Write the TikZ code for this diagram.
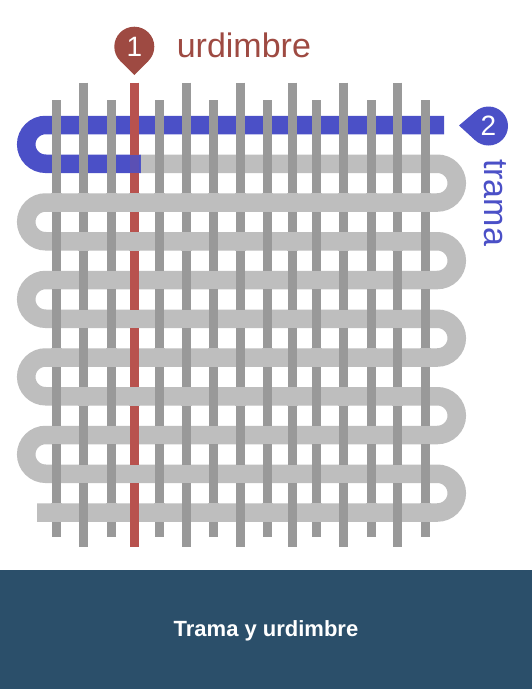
\documentclass[tikz,border=0pt]{standalone}
\usepackage{fontspec}
\setmainfont{Liberation Sans}
\usetikzlibrary{positioning}

\definecolor{warpgray}{HTML}{999999}
\definecolor{weftgray}{HTML}{BEBEBE}
\definecolor{warpred}{HTML}{B8524E}
\definecolor{weftblue}{HTML}{4B50C7}
\definecolor{pinred}{HTML}{9E4A42}
\definecolor{bannerblue}{HTML}{2B4F6A}

\tikzset{
  warp/.style={line width=9pt, draw=warpgray},
  weft/.style={line width=18.5pt, draw=weftgray},
  pinmark/.style={shape=circle, minimum size=#1, inner sep=0pt, outer sep=0pt, text=white, font=\fontsize{28}{28}\selectfont},
  bigtext/.style={inner sep=0pt, font=\fontsize{34}{34}\selectfont}
}

\begin{document}
\begin{tikzpicture}[x=1pt, y=-1pt]
			\useasboundingbox (0,0) rectangle (532,689);
			\fill[white] (0,0) rectangle (532,689);
			% Weft (gray, one long path) and the first pass in blue:
			\draw[weft] (140,163.75)
				\foreach \r in {163.75,241.25,318.75,396.25} {
					-- (437.4,\r) arc[start angle=-90, end angle=90, radius=19.375]
					-- (45.6,\r+38.75) arc[start angle=-90, end angle=-270, radius=19.375]
				}
				-- (437.4,473.75) arc[start angle=-90, end angle=90, radius=19.375]
				-- (37,512.5);
			\draw[weft, draw=weftblue] (444,125) -- (45.6,125) arc[start angle=-90, end angle=-270, radius=19.375] -- (140.5,163.75);
			% Warp threads:
			\foreach \x in {56.7,111.2,159.5,213,267.5,316.6,371.2,425.3}
				\draw[warp] (\x,100) -- (\x,537.3);
			\foreach \x in {83.8,186,240.5,292.5,343.8,397.8}
				\draw[warp] (\x,82.7) -- (\x,546.5);
			\draw[warp, draw=warpred] (134.5,82.7) -- (134.5,546.5);
			% Weft over warp crossings:
			\foreach \x [count=\c] in {56.7,83.8,111.2,134.5,159.5,186,213,240.5,267.5,292.5,316.6,343.8,371.2,397.8,425.3} {
				\fill[weftgray] (\x-5.5,193.25) rectangle (\x+5.5,211.75);
				\foreach \r in {4,...,11} {
					\pgfmathtruncatemacro{\wpar}{mod(\c+\r,2)}
					\ifnum\wpar=0
						\fill[weftgray] (\x-5.5,{125+38.75*(\r-1)-9.25}) rectangle (\x+5.5,{125+38.75*(\r-1)+9.25});
					\fi
				}
			}
			\fill[weftblue, opacity=0.85] (129.5,154.5) rectangle (140.5,173);
			% Markers and labels:
			\node[pinmark=40pt, fill=pinred] (markone) at (134.3,46.7) {1};
			\coordinate (tipone) at (134.3,75);
			\fill[pinred] (markone.-45) -- (tipone) -- (markone.-135) -- cycle;
			\node[bigtext, text=pinred, anchor=base west] (warplabel) at (176.6,57) {urdimbre};
			\node[pinmark=39pt, fill=weftblue] (marktwo) at (488.5,126) {2};
			\coordinate (tiptwo) at (459,125.5);
			\fill[weftblue] (marktwo.132) -- (tiptwo) -- (marktwo.228) -- cycle;
			\node[bigtext, text=weftblue, anchor=base, rotate=-90] (weftlabel) at (484,202.5) {trama};
			% Caption band:
			\fill[bannerblue] (0,570) rectangle (532,689);
			\node[inner sep=0pt, anchor=base, text=white, font=\fontsize{22}{22}\selectfont\bfseries] (caption) at (266,636.7) {Trama y urdimbre};
		\end{tikzpicture}
\end{document}
